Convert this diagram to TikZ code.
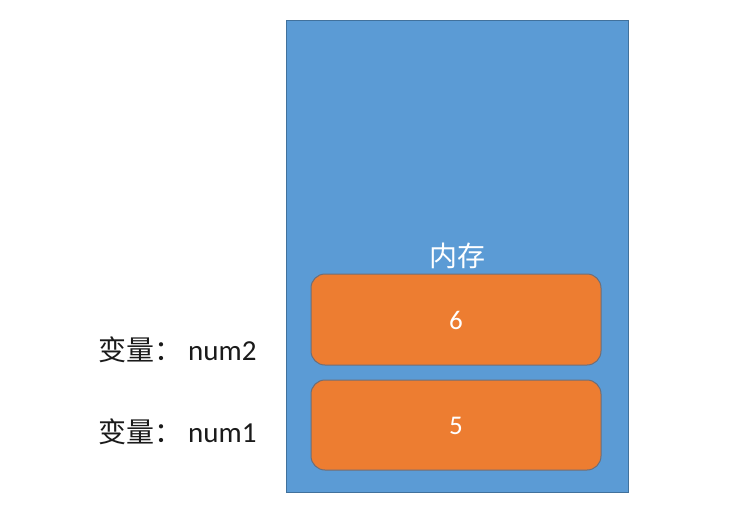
\documentclass[tikz,border=0pt]{standalone}
\usepackage{fontspec}
\setmainfont{Carlito}
\newfontfamily\cjk{Noto Sans CJK SC}
\definecolor{memblue}{HTML}{5B9BD5}
\definecolor{memedge}{HTML}{41719C}
\definecolor{cellorange}{HTML}{ED7D31}
\definecolor{celledge}{HTML}{6E6E78}
\definecolor{labeltext}{HTML}{1A1A1A}
\begin{document}
\begin{tikzpicture}[x=1pt,y=-1pt,
  mem/.style={draw=memedge, fill=memblue, line width=1pt},
  cell/.style={draw=celledge, fill=cellorange, line width=1pt, rounded corners=14pt},
  celltext/.style={text=white, font=\fontsize{27}{30}\selectfont},
  varlabel/.style={text=labeltext, anchor=west, inner sep=0pt, font=\fontsize{29}{32}\selectfont}]
\useasboundingbox (0,0) rectangle (754,528);
\draw[mem] (286,20) rectangle (628,492);
\node[text=white, font=\cjk\fontsize{28}{30}\selectfont] (memlabel) at (457,256) {内存};
\draw[cell] (311,274) rectangle (601,365);
\node[celltext] (v6) at (456,320) {6};
\draw[cell] (311,380) rectangle (601,470);
\node[celltext] (v5) at (456,426) {5};
\node[varlabel] (num2) at (98,350) {{\cjk\fontsize{28}{32}\selectfont 变量：}\hspace{6pt}num2};
\node[varlabel] (num1) at (98,432) {{\cjk\fontsize{28}{32}\selectfont 变量：}\hspace{6pt}num1};
\end{tikzpicture}
\end{document}
